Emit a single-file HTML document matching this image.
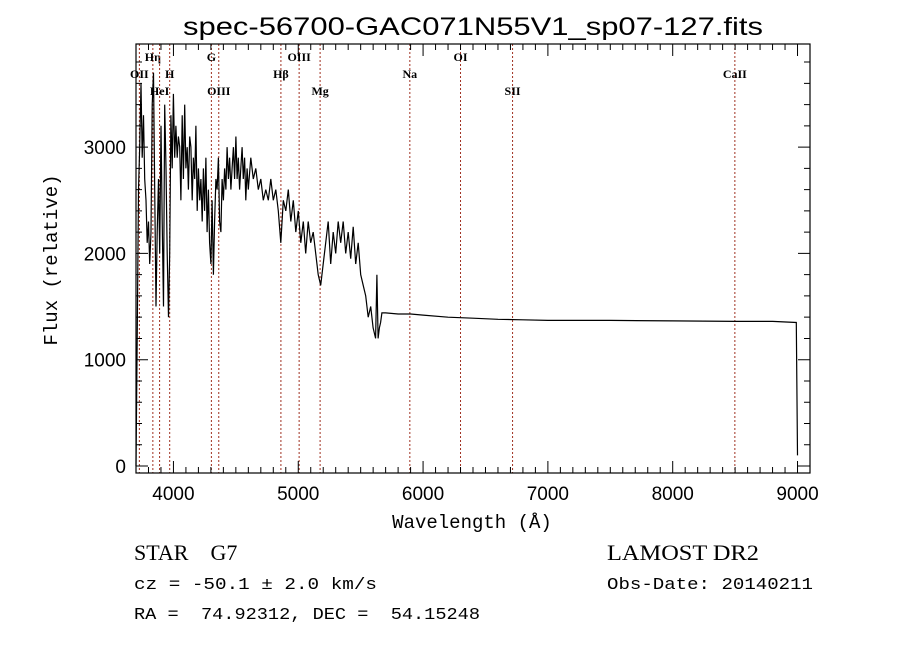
<!DOCTYPE html>
<html><head><meta charset="utf-8"><style>body{margin:0;background:#fff}svg{display:block}text{white-space:pre}</style></head>
<body>
<svg id="chart" width="900" height="649" xmlns="http://www.w3.org/2000/svg" font-family="Liberation Serif, serif">
<rect width="900" height="649" fill="#fff"/>
<text x="473" y="35" text-anchor="middle" font-family="Liberation Sans, sans-serif" font-size="25" textLength="580" lengthAdjust="spacingAndGlyphs">spec-56700-GAC071N55V1_sp07-127.fits</text>
<g id="lines"></g>
<g id="axes"></g>
<path id="spec" fill="none" stroke="#000" stroke-width="1.2"/>
<rect x="136" y="44" width="674" height="429" fill="none" stroke="#000" stroke-width="1.2"/>
<text transform="translate(57,260) rotate(-90)" text-anchor="middle" font-family="Liberation Mono, monospace" font-size="19">Flux (relative)</text>
<text x="472" y="528" text-anchor="middle" font-family="Liberation Mono, monospace" font-size="19">Wavelength (Å)</text>
<text x="134" y="560" font-size="22" xml:space="preserve">STAR    G7</text>
<text x="607" y="560" font-size="22" textLength="152" lengthAdjust="spacingAndGlyphs">LAMOST DR2</text>
<text x="134" y="589" font-family="Liberation Mono, monospace" font-size="17" textLength="243" lengthAdjust="spacingAndGlyphs">cz = -50.1 ± 2.0 km/s</text>
<text x="607" y="589" font-family="Liberation Mono, monospace" font-size="17" textLength="206" lengthAdjust="spacingAndGlyphs">Obs-Date: 20140211</text>
<text x="134" y="619" font-family="Liberation Mono, monospace" font-size="17" textLength="346" lengthAdjust="spacingAndGlyphs" xml:space="preserve">RA =  74.92312, DEC =  54.15248</text>
</svg>
<script>
const wavelengths=[3700,3710,3720,3730,3740,3750,3760,3770,3780,3790,3800,3810,3820,3830,3840,3850,3860,3870,3880,3890,3900,3910,3920,3930,3940,3950,3960,3970,3980,3990,4000,4010,4020,4030,4040,4050,4060,4070,4080,4090,4100,4110,4120,4130,4140,4150,4160,4170,4180,4190,4200,4210,4220,4230,4240,4250,4260,4270,4280,4290,4300,4310,4320,4330,4340,4350,4360,4370,4380,4390,4400,4410,4420,4430,4440,4450,4460,4470,4480,4490,4500,4510,4520,4530,4540,4550,4560,4570,4580,4590,4600,4620,4640,4660,4680,4700,4720,4740,4760,4780,4800,4820,4840,4860,4880,4900,4920,4940,4960,4980,5000,5020,5040,5060,5080,5100,5120,5140,5160,5180,5200,5220,5240,5260,5280,5300,5320,5340,5360,5380,5400,5420,5440,5460,5480,5500,5520,5540,5560,5580,5600,5620,5630,5640,5650,5660,5670,5700,5800,5900,6000,6200,6400,6600,6800,7000,7500,8000,8500,8800,8990,9000];
const fluxValues=[0,1200,2600,3000,3600,2900,3300,2700,2500,2100,2300,1900,2200,3400,3700,2600,1500,2200,2700,2000,3200,2300,1500,3400,2800,2000,1400,2000,3300,2800,3500,2900,3200,2900,3100,3000,2500,3300,2700,3400,2800,3000,2600,3100,3000,2500,2900,2700,3200,2400,2800,2500,2700,2300,2800,2400,2900,2200,2600,2100,1900,2500,1800,2300,2700,2600,2900,2300,2200,2700,2500,2800,2600,3000,2700,2900,2600,2800,3000,2700,3100,2700,2900,2600,2800,3000,2700,2900,2500,2800,2600,2900,2700,2800,2600,2700,2500,2600,2500,2700,2500,2600,2400,2100,2500,2400,2600,2300,2500,2200,2400,2100,2300,2000,2300,2100,2200,2000,1800,1700,1900,2100,2300,1900,2200,2000,2300,2100,2300,2000,2200,1950,2250,1900,2100,1800,1700,1600,1400,1500,1300,1200,1800,1200,1300,1350,1440,1440,1430,1430,1420,1400,1390,1380,1375,1370,1370,1365,1360,1360,1350,100];
const xTickLabels=[4000,5000,6000,7000,8000,9000];
const yTickLabels=[0,1000,2000,3000];
const lineWaves=[3727,3835,3889,3970,4304,4363,4861,5007,5175,5894,6300,6717,8498];
const lineNames=["OII","Hη","HeI","H","G","OIII","Hβ","OIII","Mg","Na","OI","SII","CaII"];
const lineRows=[1,0,2,1,0,2,1,0,2,1,0,2,1];
const NS="http://www.w3.org/2000/svg";
const X0=136,X1=810,W0=3700,W1=9100;
const sx=w=>X0+(w-W0)*(X1-X0)/(W1-W0);
const sy=f=>466-f*0.1063;
function mk(tag,attrs,parent){const e=document.createElementNS(NS,tag);for(const k in attrs)e.setAttribute(k,attrs[k]);parent.appendChild(e);return e;}
const gA=document.getElementById('axes'),gL=document.getElementById('lines');
for(let w=3800;w<=9100;w+=100){const x=sx(w);const major=w%1000===0;const len=major?12:6;
 const t=mk('path',{d:`M${x},473v${-len}M${x},44v${len}`,stroke:'#000','stroke-width':1},gA);
 
 }
xTickLabels.forEach(v=>{const t=mk('text',{x:sx(v),y:500,'text-anchor':'middle','font-family':'Liberation Sans, sans-serif','font-size':19},gA);t.textContent=v;
 
 });
for(let f=0;f<=3900;f+=200){const y=sy(f);const major=f%1000===0;const len=major?12:6;
 const t=mk('path',{d:`M136,${y}h${len}M810,${y}h${-len}`,stroke:'#000','stroke-width':1},gA);
 
 }
yTickLabels.forEach(v=>{const t=mk('text',{x:126,y:sy(v)+7,'text-anchor':'end','font-family':'Liberation Sans, sans-serif','font-size':19},gA);t.textContent=v;
 
 });
lineWaves.forEach((w,i)=>{const x=sx(w);
 const l=mk('line',{x1:x,x2:x,y1:44,y2:473,stroke:'#a03020','stroke-width':1,'stroke-dasharray':'2,2'},gL);
 
 
 const t=mk('text',{x:x,y:61+lineRows[i]*17,'text-anchor':'middle','font-size':12,'font-weight':'bold'},gL);t.textContent=lineNames[i];
 
 });
document.getElementById('spec').setAttribute('d',wavelengths.map((w,i)=>(i?'L':'M')+sx(w).toFixed(1)+','+sy(fluxValues[i]).toFixed(1)).join(''));
</script>
</body></html>
